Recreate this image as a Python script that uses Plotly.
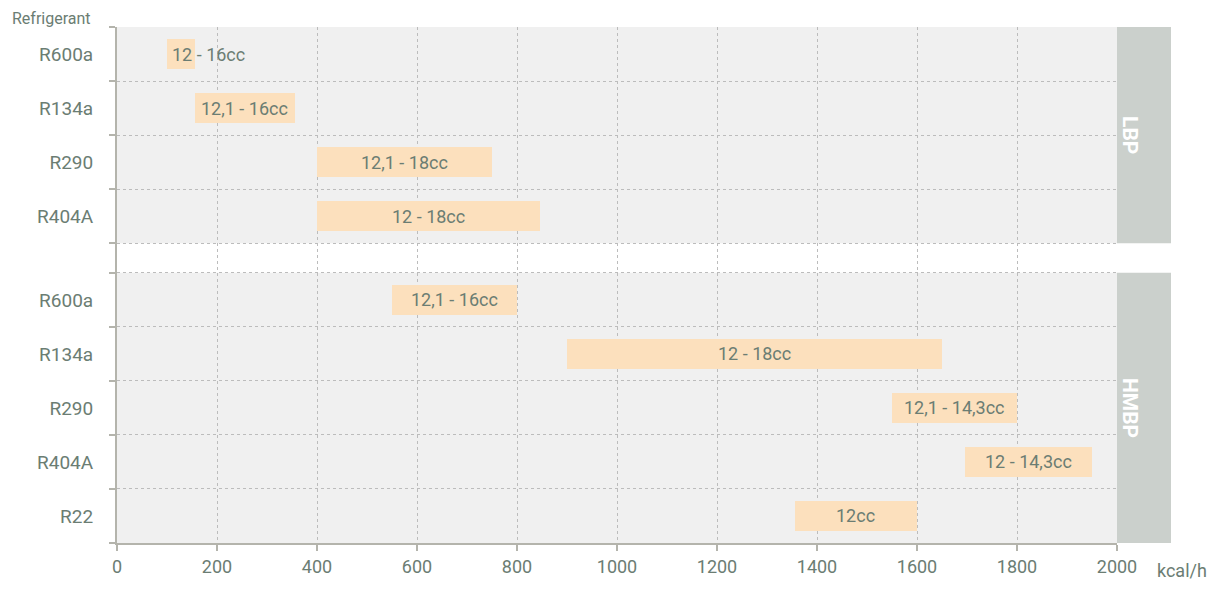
import plotly.graph_objects as go

groups = ["LBP", "LBP", "LBP", "LBP", "HMBP", "HMBP", "HMBP", "HMBP", "HMBP"]
refrigerants = ["R600a", "R134a", "R290", "R404A", "R600a", "R134a", "R290", "R404A", "R22"]
cap_min = [100, 155, 400, 400, 550, 900, 1550, 1695, 1355]
cap_max = [155, 355, 750, 845, 800, 1650, 1800, 1950, 1600]
labels = ["12 - 16cc", "12,1 - 16cc", "12,1 - 18cc", "12 - 18cc", "12,1 - 16cc",
          "12 - 18cc", "12,1 - 14,3cc", "12 - 14,3cc", "12cc"]
x_ticks = [0, 200, 400, 600, 800, 1000, 1200, 1400, 1600, 1800, 2000]

FONT = "Roboto, Arial, sans-serif"
TEXT = "#6b7d73"
AXIS = "#b4b4ac"
GRID = "#bcbcbc"
BAR = "#fce0bd"
PANEL = "#cbd0cc"
GAP = 0.55

# row layout: group blocks stacked top to bottom with a narrow gap between them
group_order = []
for g in groups:
    if g not in group_order:
        group_order.append(g)

y_pos = []
bounds = []
spans = {}
start = 0.0
for g in group_order:
    n = groups.count(g)
    spans[g] = (start, start + n)
    bounds.extend(start + k for k in range(n + 1))
    start += n + GAP
y_max = start - GAP
counter = {g: 0 for g in group_order}
for g in groups:
    y_pos.append(spans[g][0] + counter[g] + 0.5)
    counter[g] += 1

fig = go.Figure()
fig.add_trace(go.Bar(
    y=y_pos,
    x=[b - a for a, b in zip(cap_min, cap_max)],
    base=cap_min,
    orientation="h",
    width=0.56,
    marker=dict(color=BAR, line=dict(width=0)),
    hovertext=[f"{r} ({g}): {t}" for r, g, t in zip(refrigerants, groups, labels)],
    hoverinfo="text",
    showlegend=False,
))

for y, a, b, t in zip(y_pos, cap_min, cap_max, labels):
    narrow = (b - a) < 150
    fig.add_annotation(
        x=a + 6 if narrow else (a + b) / 2, y=y, text=t, showarrow=False,
        xanchor="left" if narrow else "center", yanchor="middle",
        font=dict(family=FONT, size=18, color=TEXT),
    )

# white gap between groups (gridlines stay on top)
for g0, g1 in zip(group_order[:-1], group_order[1:]):
    fig.add_shape(type="rect", xref="paper", yref="y", x0=0, x1=1,
                  y0=spans[g0][1], y1=spans[g1][0], fillcolor="white",
                  line=dict(width=0), layer="below")

# side panels with group names
for g in group_order:
    y0, y1 = spans[g]
    fig.add_shape(type="rect", xref="paper", yref="y", x0=1, x1=1.054,
                  y0=y0, y1=y1, fillcolor=PANEL, line=dict(width=0))
    fig.add_annotation(xref="paper", yref="y", x=1.027, y=(y0 + y1) / 2,
                       text=f"<b>{g}</b>", textangle=90, showarrow=False,
                       font=dict(family=FONT, size=21, color="white"))

fig.add_annotation(xref="paper", yref="paper", x=-0.107, y=1.0, yshift=9,
                   text="Refrigerant", showarrow=False, xanchor="left", yanchor="middle",
                   font=dict(family=FONT, size=16, color=TEXT))
fig.add_annotation(xref="paper", yref="paper", x=1.038, y=0, yshift=-27,
                   text="kcal/h", showarrow=False, xanchor="left", yanchor="middle",
                   font=dict(family=FONT, size=18, color=TEXT))

fig.update_xaxes(
    range=[0, 2000], tickvals=x_ticks, ticks="outside", ticklen=6, tickcolor=AXIS,
    tickwidth=2, showline=True, linecolor=AXIS, linewidth=2,
    showgrid=True, gridcolor=GRID, griddash="3px,3px", gridwidth=1, zeroline=False,
    tickfont=dict(family=FONT, size=18, color=TEXT), fixedrange=True,
)
fig.update_yaxes(
    range=[y_max, 0], tickvals=y_pos, ticktext=refrigerants, ticks="",
    ticklabelstandoff=18, showline=True, linecolor=AXIS, linewidth=2,
    showgrid=False, zeroline=False,
    tickfont=dict(family=FONT, size=19, color=TEXT),
    minor=dict(tickvals=bounds, ticks="outside", ticklen=6, tickcolor=AXIS,
               tickwidth=2, showgrid=True, gridcolor=GRID, griddash="3px,3px",
               gridwidth=1),
    fixedrange=True,
)
# page body adds an 8px offset, so the figure is sized and margined to compensate
fig.update_layout(
    width=1207, height=581,
    margin=dict(l=109, r=98, t=19, b=41),
    plot_bgcolor="#f0f0f0", paper_bgcolor="white",
    bargap=0, font=dict(family=FONT, color=TEXT),
)

fig.write_html("out.html")
